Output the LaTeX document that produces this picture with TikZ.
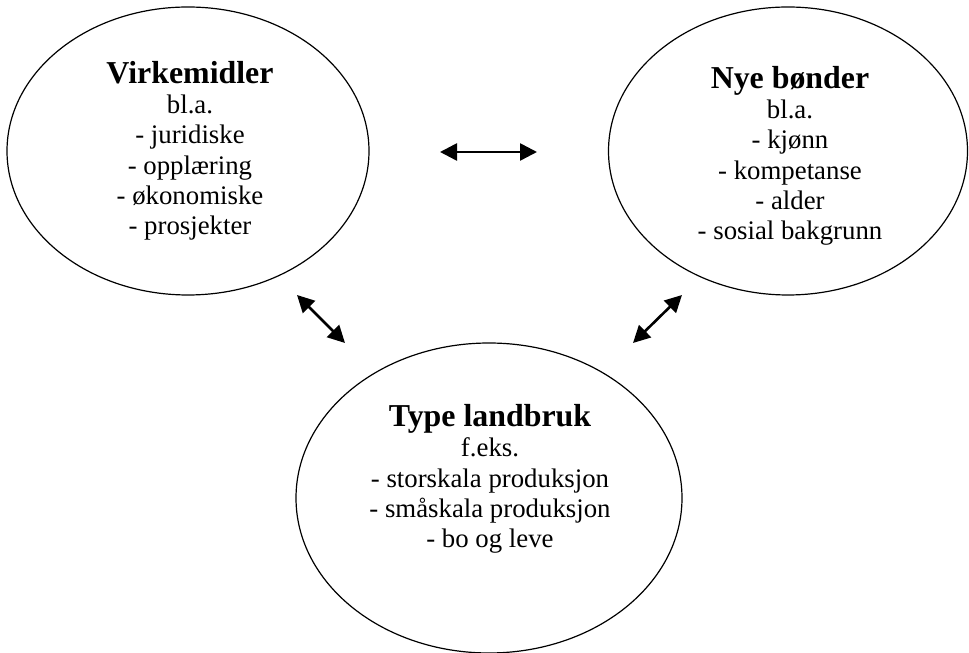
\documentclass[tikz,border=0pt]{standalone}
\usepackage{fontspec}
\setmainfont{Liberation Serif}
\usetikzlibrary{shapes,arrows.meta}

\begin{document}
\begin{tikzpicture}[>={Triangle[length=17bp,width=17bp]}]
 \tikzstyle{oval}=[draw,ellipse,line width=1.2bp,inner sep=0pt]
 \tikzstyle{list}=[align=center,inner sep=0pt,anchor=base,font=\fontsize{26.9}{30.5}\selectfont]
 \tikzstyle{link}=[<->,line width=2.6bp]
 \useasboundingbox (0bp,0bp) rectangle (969bp,653bp);

 \node (V) at (188bp,502bp) [oval,minimum width=362bp,minimum height=288bp] {};
 \node (N) at (788bp,502bp) [oval,minimum width=359bp,minimum height=288bp] {};
 \node (T) at (489bp,155bp) [oval,minimum width=386bp,minimum height=310bp] {};

 % base anchor sits on the last line
 \node (Vtext) at (190bp,418bp) [list] {{\bfseries\fontsize{32}{30.5}\selectfont Virkemidler}\\ bl.a.\\ - juridiske\\ - opplæring\\ - økonomiske\\ - prosjekter};
 \node (Ntext) at (790bp,413bp) [list] {{\bfseries\fontsize{32}{30.5}\selectfont Nye bønder}\\ bl.a.\\ - kjønn\\ - kompetanse\\ - alder\\ - sosial bakgrunn};
 \node (Ttext) at (490bp,105bp) [list] {{\bfseries\fontsize{32}{30.5}\selectfont Type landbruk}\\ f.eks.\\ - storskala produksjon\\ - småskala produksjon\\ - bo og leve};

 \coordinate (VNa) at (440bp,501bp);
 \coordinate (VNb) at (537bp,501bp);
 \coordinate (VTa) at (297bp,358bp);
 \coordinate (VTb) at (345bp,310bp);
 \coordinate (NTa) at (682bp,358bp);
 \coordinate (NTb) at (633bp,310bp);

 \draw [link] (VNa) -- (VNb);
 \draw [link] (VTa) -- (VTb);
 \draw [link] (NTa) -- (NTb);
\end{tikzpicture}
\end{document}
